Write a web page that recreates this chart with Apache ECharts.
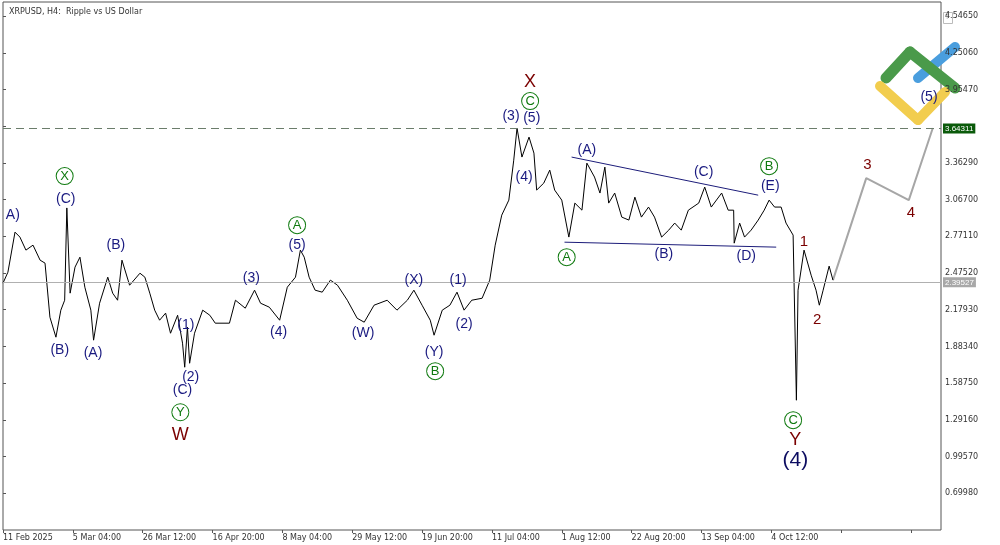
<!DOCTYPE html>
<html><head><meta charset="utf-8">
<script src="https://cdn.jsdelivr.net/npm/echarts@6/dist/echarts.min.js"></script>
<style>html,body{margin:0;padding:0;background:#fff}#c{width:1000px;height:545px}</style>
</head><body><div id="c"></div>
<script>
// H4 bar index since 11 Feb 2025 (128 bars per date label)
const barIdx=[0,9,22,31,42,55,68,77,86,97,106,113,117,123,132,141,150,161,166,177,192,201,210,218,232,251,260,269,278,287,298,307,320,329,333,338,342,351,366,379,389,415,426,444,461,472,488,507,521,536,545,552,561,572,585,600,613,631,649,662,680,704,722,741,753,768,783,790,805,819,832,845,859,878,892,902,914,927,936,942,951,964,973,978,991,1002,1011,1024,1037,1048,1061,1070,1084,1094,1103,1110,1121,1134,1147,1158,1170,1183,1194,1207,1220,1231,1243,1256,1275,1286,1298,1317,1329,1339,1340,1350,1359,1371,1384,1395,1404,1414,1426,1435,1448,1454,1457,1468,1481,1490,1496,1503,1514,1521];
const prices=[2.394,2.482,2.805,2.765,2.660,2.700,2.579,2.555,2.119,1.958,2.176,2.256,3.000,2.313,2.523,2.603,2.361,2.176,1.934,2.232,2.442,2.313,2.256,2.579,2.377,2.474,2.442,2.313,2.176,2.095,2.152,1.990,2.135,1.910,1.716,2.039,1.748,1.990,2.176,2.135,2.071,2.071,2.256,2.192,2.337,2.232,2.200,2.095,2.361,2.442,2.660,2.603,2.442,2.337,2.321,2.418,2.377,2.256,2.111,2.079,2.216,2.256,2.176,2.256,2.337,2.216,2.095,1.974,2.176,2.216,2.321,2.176,2.256,2.272,2.418,2.700,2.942,3.063,3.385,3.644,3.410,3.571,3.442,3.144,3.200,3.305,3.144,3.063,2.765,3.039,2.982,3.361,3.249,3.120,3.329,3.039,3.120,2.926,2.902,3.087,2.926,3.007,2.926,2.765,2.821,2.878,2.821,2.982,3.039,3.168,3.007,3.120,2.982,2.982,2.716,2.878,2.765,2.821,2.902,2.982,3.063,3.007,3.007,2.878,2.781,1.450,2.337,2.660,2.458,2.337,2.216,2.337,2.531,2.418];
const dateLabels=["11 Feb 2025","5 Mar 04:00","26 Mar 12:00","16 Apr 20:00","8 May 04:00","29 May 12:00","19 Jun 20:00","11 Jul 04:00","1 Aug 12:00","22 Aug 20:00","13 Sep 04:00","4 Oct 12:00"];
const projBars=[1521,1582,1660,1704];
const projPrices=[2.418,3.240,3.063,3.644];
const upperTri=[[1042,3.410],[1384,3.103]];
const lowerTri=[[1029,2.724],[1417,2.684]];
const lastPrice=2.39527, highLevel=3.64311;
const navyLabels=[["A)",18,2.942],["(C)",115,3.071],["(B)",104,1.853],["(A)",165,1.829],["(B)",207,2.700],["(1)",335,2.055],["(2)",344,1.636],["(C)",329,1.531],["(3)",455,2.434],["(4)",505,1.998],["(5)",539,2.700],["(W)",660,1.990],["(X)",753,2.418],["(1)",834,2.418],["(2)",845,2.063],["(Y)",790,1.837],["(3)",931,3.740],["(5)",969,3.724],["(4)",955,3.249],["(A)",1070,3.466],["(B)",1211,2.627],["(C)",1284,3.289],["(D)",1362,2.611],["(E)",1406,3.176],["(5)",1697,3.894]];
const greenLabels=[["X",113,3.257],["Y",325,1.353],["A",539,2.861],["B",792,1.684],["C",966,3.861],["A",1033,2.603],["B",1404,3.337],["C",1448,1.289]];
const redLabels=[["W",325,1.168,18],["X",966,4.015,18],["Y",1452,1.127,18],["1",1468,2.724,15],["2",1492,2.095,15],["3",1584,3.345,15],["4",1664,2.958,15]];
const bigLabels=[["(4)",1452,0.966]];

const chart=echarts.init(document.getElementById('c'));
const lbl=(arr,style)=>({type:'scatter',symbolSize:0,silent:true,z:5,itemStyle:{opacity:1},
  data:arr.map(a=>({name:a[0],value:[a[1],a[2]],label:a[3]?{fontSize:a[3]}:undefined})),
  label:Object.assign({show:true,position:'inside',formatter:p=>p.name,fontFamily:'Liberation Sans'},style)});
chart.setOption({
  animation:false,
  grid:{left:1,right:59,top:2,bottom:15,show:true,borderColor:'#555',borderWidth:1},
  title:{text:'XRPUSD, H4:  Ripple vs US Dollar',left:4,top:3,textStyle:{fontSize:8,fontWeight:'normal',color:'#333',fontFamily:'DejaVu Sans'}},
  xAxis:{type:'value',min:0,max:1719,interval:128,splitLine:{show:false},
    axisLine:{show:false},axisTick:{show:true,length:3,lineStyle:{color:'#555'}},
    axisLabel:{fontSize:8,color:'#333',align:'left',margin:4,fontFamily:'DejaVu Sans',showMaxLabel:false,formatter:v=>dateLabels[Math.round(v/128)]||''}},
  yAxis:{type:'value',position:'right',min:0.4039,max:4.660,interval:0.2959,splitLine:{show:false},
    axisLine:{show:false},axisTick:{show:true,length:3,inside:false,lineStyle:{color:'#555'}},
    axisLabel:{fontSize:8,color:'#333',margin:4,fontFamily:'DejaVu Sans',showMinLabel:false,showMaxLabel:false,
      formatter:v=>Math.abs(v-3.6556)<0.01?'':v.toFixed(5)}},
  series:[
    {type:'line',data:barIdx.map((b,i)=>[b,prices[i]]),showSymbol:false,lineStyle:{color:'#000',width:1},z:3,
     markLine:{silent:true,symbol:'none',animation:false,data:[
       {yAxis:highLevel,lineStyle:{color:'#6b7d6b',type:[8,5],width:1},label:{show:true,position:'end',formatter:'3.64311',backgroundColor:'#0a5a0a',color:'#fff',fontSize:8,padding:[1,2],distance:2}},
       {yAxis:lastPrice,lineStyle:{color:'#b0b0b0',type:'solid',width:1},label:{show:true,position:'end',formatter:'2.39527',backgroundColor:'#a8a8a8',color:'#fff',fontSize:8,padding:[1,2],distance:2}}
     ]}},
    {type:'line',data:projBars.map((b,i)=>[b,projPrices[i]]),showSymbol:false,lineStyle:{color:'#a6a6a6',width:2},z:2},
    {type:'line',data:upperTri,showSymbol:false,lineStyle:{color:'#1c1c7a',width:1},z:2},
    {type:'line',data:lowerTri,showSymbol:false,lineStyle:{color:'#1c1c7a',width:1},z:2},
    lbl(navyLabels,{color:'#1a1a80',fontSize:14}),
    lbl(greenLabels,{color:'#0f7a0f',fontSize:13,borderColor:'#0f7a0f',borderWidth:1,borderRadius:10,width:16,height:16,lineHeight:16,align:'center',padding:0,backgroundColor:'#fff'}),
    lbl(redLabels,{color:'#7a0000'}),
    lbl(bigLabels,{color:'#0c0c60',fontSize:21})
  ],
  graphic:[
    {type:'rect',left:943,top:12,shape:{width:9,height:11},style:{fill:'#fff',stroke:'#bbb'}},
    {type:'text',left:945,top:14,style:{text:'T',fontSize:7,fill:'#aaa'}},
    {type:'line',shape:{x1:918,y1:78,x2:955,y2:47},style:{stroke:'#4a9ede',lineWidth:10,lineCap:'round'}},
    {type:'line',shape:{x1:886,y1:78,x2:910,y2:52},style:{stroke:'#4a9a4a',lineWidth:11,lineCap:'round'}},
    {type:'line',shape:{x1:910,y1:52,x2:955,y2:88},style:{stroke:'#4a9a4a',lineWidth:11,lineCap:'round'}},
    {type:'line',shape:{x1:880,y1:86,x2:918,y2:120},style:{stroke:'#f2cd4e',lineWidth:10,lineCap:'round'}},
    {type:'line',shape:{x1:918,y1:120,x2:945,y2:92},style:{stroke:'#f2cd4e',lineWidth:10,lineCap:'round'}}
  ]
});
</script></body></html>
